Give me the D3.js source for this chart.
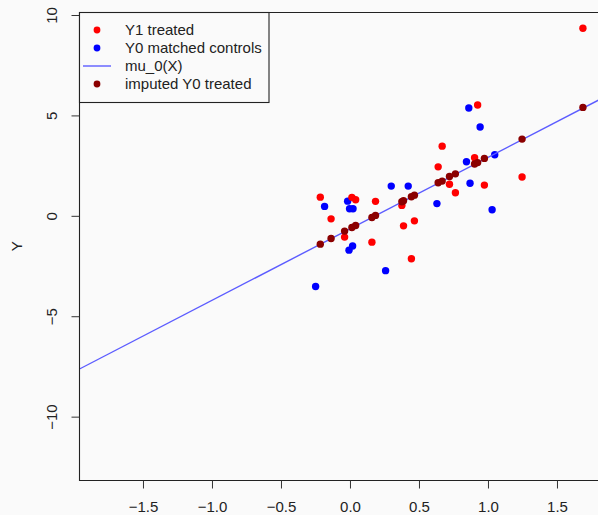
<!DOCTYPE html>
<html>
<head>
<meta charset="utf-8">
<script src="https://cdn.jsdelivr.net/npm/d3@7"></script>
<style>
  html, body { margin: 0; padding: 0; background: #fafafa; }
  svg { display: block; font-family: "Liberation Sans", Arial, sans-serif; }
</style>
</head>
<body>
<div id="plot"></div>
<script>
// data
const treatedX = [-0.215, -0.137, -0.039, 0.014, 0.041, 0.159, 0.185, 0.376, 0.388, 0.445,
    0.467, 0.639, 0.668, 0.721, 0.764, 0.903, 0.925, 0.974, 1.247, 1.688];
const y1Treated = [0.93, -0.15, -1.06, 0.92, 0.80, -1.31, 0.72, 0.52, -0.50, -2.14,
    -0.25, 2.44, 3.47, 1.57, 1.15, 2.89, 5.52, 1.53, 1.93, 9.34];
const y0Imputed = [-1.41, -1.13, -0.76, -0.58, -0.48, -0.08, 0.02, 0.70, 0.75, 0.95,
    1.03, 1.65, 1.73, 1.96, 2.09, 2.58, 2.65, 2.86, 3.82, 5.40];

const controlX = [-0.249, -0.184, -0.017, -0.003, 0.022, 0.019, -0.007, 0.258, 0.299, 0.422,
    0.630, 0.844, 0.870, 0.861, 0.943, 1.049, 1.030];
const y0Controls = [-3.52, 0.47, 0.73, 0.35, 0.35, -1.50, -1.71, -2.73, 1.48, 1.48,
    0.61, 2.69, 1.62, 5.37, 4.42, 3.04, 0.30];

// fitted mu_0(X) line
const mu0Intercept = -0.65;
const mu0Slope = 3.56;

const xTicks = [-1.5, -1.0, -0.5, 0.0, 0.5, 1.0, 1.5];
const yTicks = [-10, -5, 0, 5, 10];
const legendLabels = ["Y1 treated", "Y0 matched controls", "mu_0(X)", "imputed Y0 treated"];

const width = 598, height = 515;
const margin = { top: 12, left: 79.5, bottom: 480.5 };

const svg = d3.select("#plot")
    .append("svg")
    .attr("width", width)
    .attr("height", height);

svg.append("rect")
    .attr("width", width)
    .attr("height", height)
    .attr("fill", "#fafafa");

const x = d3.scaleLinear()
    .domain([-1.96, 2.1])
    .range([margin.left, margin.left + 4.06 * 138]);

const y = d3.scaleLinear()
    .domain([-13.18, 10.15])
    .range([margin.bottom, margin.top]);

const fmt = d => d.toFixed(1).replace("-", "\u2212");

// clip so the plot runs off the right edge like the reference
svg.append("clipPath").attr("id", "clip")
    .append("rect")
    .attr("x", margin.left)
    .attr("y", margin.top)
    .attr("width", width - margin.left)
    .attr("height", margin.bottom - margin.top);

const plot = svg.append("g").attr("clip-path", "url(#clip)");

// box
svg.append("path")
    .attr("d", `M${width + 2},${margin.top + 0.5}H${margin.left}V${margin.bottom}H${width + 2}`)
    .attr("fill", "none")
    .attr("stroke", "#222")
    .attr("stroke-width", 1.1);

// x axis
svg.append("g")
    .attr("transform", `translate(0,${margin.bottom})`)
    .call(d3.axisBottom(x).tickValues(xTicks).tickFormat(fmt).tickSize(8).tickPadding(13).tickSizeOuter(0))
    .call(g => g.select(".domain").remove())
    .call(g => g.selectAll(".tick line").attr("stroke", "#333"))
    .call(g => g.selectAll("text").attr("font-size", "15px").attr("fill", "#222")
        .attr("font-family", "'Liberation Sans', Arial, sans-serif"));

// y axis
svg.append("g")
    .attr("transform", `translate(${margin.left},0)`)
    .call(d3.axisLeft(y).tickValues(yTicks).tickFormat(d => String(d).replace("-", "\u2212")).tickSize(8).tickSizeOuter(0))
    .call(g => g.select(".domain").remove())
    .call(g => g.selectAll(".tick line").attr("stroke", "#333"))
    .call(g => g.selectAll("text")
        .attr("font-size", "15px").attr("fill", "#222")
        .attr("font-family", "'Liberation Sans', Arial, sans-serif")
        .attr("text-anchor", "middle")
        .attr("dy", "0.35em")
        .attr("x", 0)
        .attr("transform", "translate(-28,0) rotate(-90)"));

svg.append("text")
    .attr("transform", `translate(17,${(margin.top + margin.bottom) / 2}) rotate(-90)`)
    .attr("text-anchor", "middle")
    .attr("dy", "0.35em")
    .attr("font-size", "15px")
    .attr("fill", "#222")
    .text("Y");

const r = 3.7;

// matched controls
plot.selectAll(".ctrl")
    .data(controlX.map((d, i) => [d, y0Controls[i]]))
    .join("circle")
    .attr("class", "ctrl")
    .attr("cx", d => x(d[0]))
    .attr("cy", d => y(d[1]))
    .attr("r", r)
    .attr("fill", "#0000ff");

// treated outcomes
plot.selectAll(".y1")
    .data(treatedX.map((d, i) => [d, y1Treated[i]]))
    .join("circle")
    .attr("class", "y1")
    .attr("cx", d => x(d[0]))
    .attr("cy", d => y(d[1]))
    .attr("r", r)
    .attr("fill", "#ff0000");

// mu_0 line
const xs = x.domain();
plot.append("line")
    .attr("x1", x(xs[0]))
    .attr("y1", y(mu0Intercept + mu0Slope * xs[0]))
    .attr("x2", x(xs[1]))
    .attr("y2", y(mu0Intercept + mu0Slope * xs[1]))
    .attr("stroke", "#5c5cff")
    .attr("stroke-width", 1.4);

// imputed
plot.selectAll(".imp")
    .data(treatedX.map((d, i) => [d, y0Imputed[i]]))
    .join("circle")
    .attr("class", "imp")
    .attr("cx", d => x(d[0]))
    .attr("cy", d => y(d[1]))
    .attr("r", r)
    .attr("fill", "#8b0000");

// legend
const legend = svg.append("g");
legend.append("rect")
    .attr("x", margin.left)
    .attr("y", margin.top + 0.5)
    .attr("width", 269 - margin.left)
    .attr("height", 102 - margin.top)
    .attr("fill", "#fafafa")
    .attr("stroke", "#222")
    .attr("stroke-width", 1.1);

const legendColors = ["#ff0000", "#0000ff", "#5c5cff", "#8b0000"];
legendLabels.forEach((lab, i) => {
    const ly = 30 + i * 18;
    if (i === 2) {
        legend.append("line")
            .attr("x1", 83).attr("x2", 111)
            .attr("y1", ly).attr("y2", ly)
            .attr("stroke", legendColors[i])
            .attr("stroke-width", 1.4);
    } else {
        legend.append("circle")
            .attr("cx", 97).attr("cy", ly)
            .attr("r", 3.4)
            .attr("fill", legendColors[i]);
    }
    legend.append("text")
        .attr("x", 125)
        .attr("y", ly)
        .attr("dy", "0.35em")
        .attr("font-size", "15px")
        .attr("fill", "#222")
        .text(lab);
});
</script>
</body>
</html>
